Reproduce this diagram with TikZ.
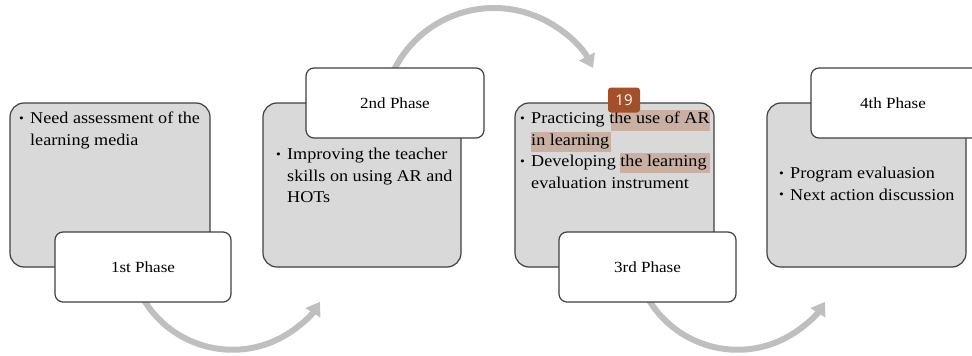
\documentclass[tikz,border=0pt]{standalone}
\usepackage{fontspec}
\setmainfont[FakeStretch=1.1]{Liberation Serif}
\newfontfamily\badgefont{Open Sans}
\usetikzlibrary{arrows.meta}
\definecolor{panelgray}{HTML}{D9D9D9}
\definecolor{bordergray}{HTML}{404040}
\definecolor{arrowgray}{HTML}{BFBFBF}
\definecolor{hilite}{HTML}{C9B0A3}
\definecolor{badgebrown}{HTML}{A3502A}
\newcommand{\bul}{\makebox[11pt][l]{\raisebox{0.2ex}{\scalebox{0.75}{\textbullet}}}}
\newcommand{\ind}{\hspace*{11pt}}
\begin{document}
\begin{tikzpicture}[x=1pt,y=-1pt,
  panel/.style={draw=bordergray, line width=1.2pt, fill=panelgray, rounded corners=14pt, inner sep=0pt},
  tag/.style={draw=bordergray, line width=1.2pt, fill=white, rounded corners=8pt, inner sep=0pt,
    minimum height=70pt, text=black, font=\fontsize{15.5}{18}\selectfont},
  body/.style={anchor=north west, align=left, inner sep=0pt, text=black,
    font=\fontsize{16.5}{21.5}\selectfont},
  flow/.style={draw=arrowgray, line width=6pt, -{Triangle[width=17pt,length=13pt]}},
  hl/.style={fill=hilite, draw=none},
  badge/.style={fill=badgebrown, rounded corners=3pt, text=white, inner sep=0pt,
    minimum width=32pt, minimum height=25pt, font=\badgefont\fontsize{15}{15}\selectfont}]
\useasboundingbox (0,0) rectangle (972,356);

% curved arrows (behind the boxes)
\coordinate (c1) at (232.5,246);
\coordinate (c2) at (494,119.7);
\coordinate (c3) at (737.5,246);
\draw[flow] (c1) ++(150:103.75) arc[start angle=150, end angle=32.6, radius=103.75];
\draw[flow] (c2) ++(205:111.7) arc[start angle=205, end angle=332.4, radius=111.7];
\draw[flow] (c3) ++(150:103.75) arc[start angle=150, end angle=32.6, radius=103.75];

% grey panels
\node[panel, minimum width=200pt, minimum height=164pt] (g1) at (110,185) {};
\node[panel, minimum width=198pt, minimum height=164pt] (g2) at (362,185) {};
\node[panel, minimum width=199pt, minimum height=164pt] (g3) at (614.5,185) {};
\node[panel, minimum width=199pt, minimum height=164pt] (g4) at (866.5,185) {};

% highlights in panel 3
\fill[hl] (611,110) rectangle (710,131);
\fill[hl] (531,132) rectangle (611,152);
\fill[hl] (620,153) rectangle (710,173);

% panel texts
\node[body] (t1) at (19,112) {\bul Need assessment of the\\\ind learning media};
\node[body] (t2) at (276,148) {\bul Improving the teacher\\\ind skills on using AR and\\\ind HOTs};
\node[body] (t3) at (520,112) {\bul Practicing the use of AR\\\ind in learning\\\bul Developing the learning\\\ind evaluation instrument};
\node[body] (t4) at (779,167) {\bul Program evaluasion\\\bul Next action discussion};

% phase labels
\node[tag, minimum width=176pt] (l1) at (143,267) {1st Phase};
\node[tag, minimum width=178pt] (l2) at (395,103) {2nd Phase};
\node[tag, minimum width=177pt] (l3) at (647.5,267) {3rd Phase};
\node[tag, minimum width=178pt] (l4) at (900,103) {\hspace*{-14pt}4th Phase};

% page badge
\node[badge] (b19) at (624,100) {19};
\end{tikzpicture}
\end{document}
